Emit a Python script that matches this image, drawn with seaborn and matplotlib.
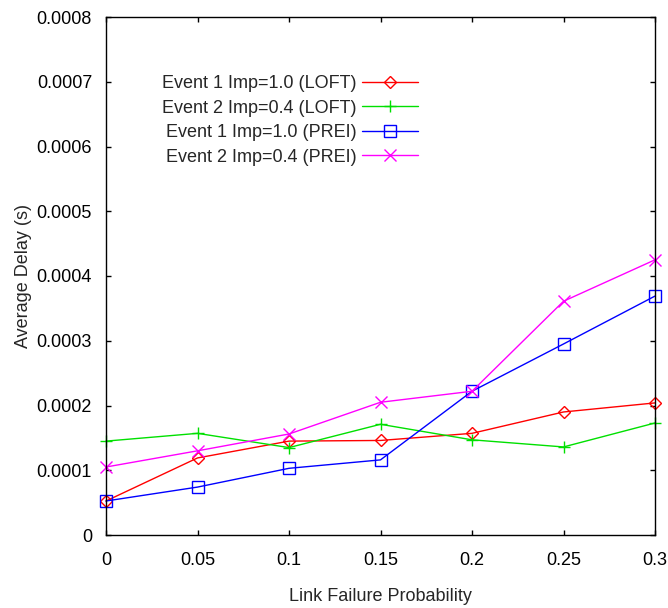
import matplotlib
matplotlib.use("Agg")
import matplotlib.pyplot as plt
import seaborn as sns
import pandas as pd

x_vals = [0, 0.05, 0.1, 0.15, 0.2, 0.25, 0.3]
loft_e1 = [0.0000525, 0.000119, 0.000145, 0.000146, 0.000157, 0.000190, 0.000204]
loft_e2 = [0.000145, 0.000157, 0.000135, 0.000171, 0.000147, 0.000136, 0.000173]
prei_e1 = [0.0000525, 0.000074, 0.000103, 0.000116, 0.000222, 0.000295, 0.000369]
prei_e2 = [0.000105, 0.000130, 0.000156, 0.000205, 0.000222, 0.000361, 0.000425]
labels = ["Event 1 Imp=1.0 (LOFT)", "Event 2 Imp=0.4 (LOFT)",
          "Event 1 Imp=1.0 (PREI)", "Event 2 Imp=0.4 (PREI)"]
xticks = [0, 0.05, 0.1, 0.15, 0.2, 0.25, 0.3]
xticklabels = ["0", "0.05", "0.1", "0.15", "0.2", "0.25", "0.3"]
yticks = [0, 0.0001, 0.0002, 0.0003, 0.0004, 0.0005, 0.0006, 0.0007, 0.0008]
yticklabels = ["0", "0.0001", "0.0002", "0.0003", "0.0004", "0.0005", "0.0006", "0.0007", "0.0008"]

sns.set_style("ticks")
plt.rcParams["font.family"] = ["Liberation Sans", "DejaVu Sans"]
plt.rcParams["font.size"] = 13

fig = plt.figure(figsize=(6.68, 6.08), dpi=100)
ax = fig.add_axes([106/668, (608-535)/608, (655-106)/668, (535-17)/608])

series = [loft_e1, loft_e2, prei_e1, prei_e2]
colors = ["#ff0000", "#00e000", "#0000ff", "#ff00ff"]
markers = ["D", "+", "s", "x"]
msizes = [5.8, 8.6, 8.0, 8.6]

for vals, lab, col, mk, ms in zip(series, labels, colors, markers, msizes):
    df = pd.DataFrame({"x": x_vals, "y": vals})
    sns.lineplot(data=df, x="x", y="y", ax=ax, color=col, marker=mk,
                 markersize=ms, markerfacecolor="none", markeredgecolor=col,
                 markeredgewidth=1.0, linewidth=1.0, label=lab, clip_on=False)

ax.set_xlim(0, 0.3)
ax.set_ylim(0, 0.0008)
ax.set_xticks(xticks)
ax.set_xticklabels(xticklabels)
ax.set_yticks(yticks)
ax.set_yticklabels(yticklabels)
ax.tick_params(direction="in", length=3.5, width=1, top=True, right=True,
               labelsize=13, colors="black")
ax.tick_params(axis="x", pad=12)
ax.tick_params(axis="y", pad=10)
for sp in ax.spines.values():
    sp.set_visible(True)
    sp.set_color("black")
    sp.set_linewidth(1.0)
ax.set_xlabel("Link Failure Probability", fontsize=13, labelpad=14)
ax.set_ylabel("Average Delay (s)", fontsize=13, labelpad=3)

ax.legend(loc="upper right", bbox_to_anchor=(0.568, 0.888), frameon=False,
          markerfirst=False, borderpad=0, borderaxespad=0, handlelength=3.1,
          labelspacing=0.42, handletextpad=0.3, fontsize=13)

fig.savefig("out.png", dpi=100)
